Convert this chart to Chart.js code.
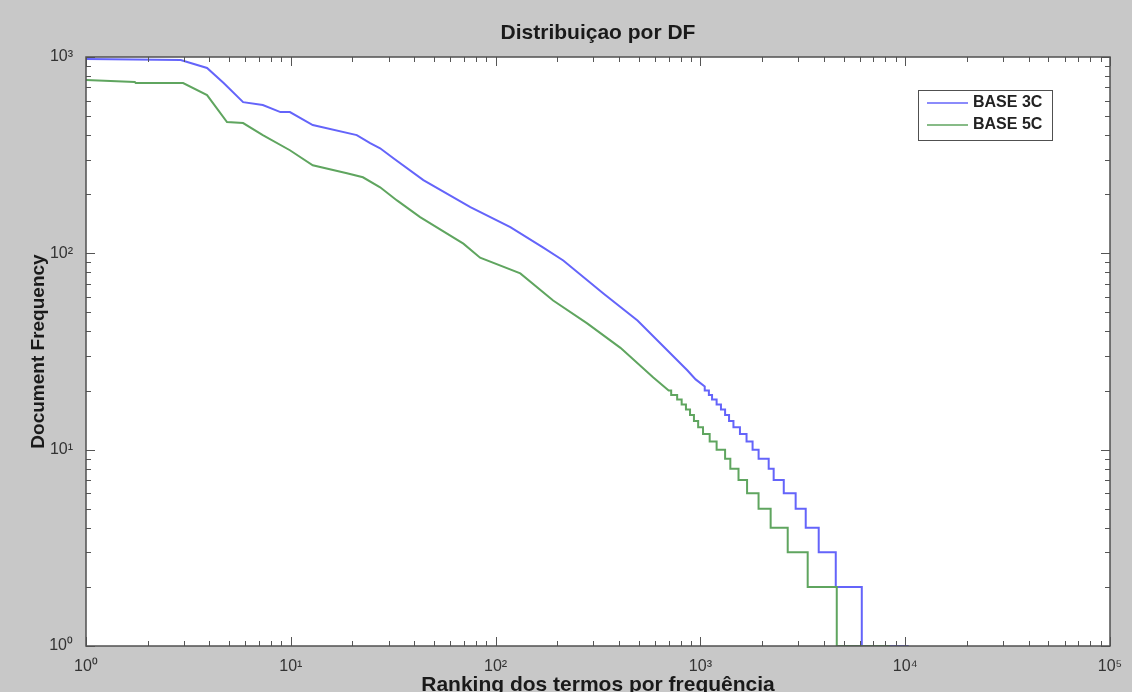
<!DOCTYPE html>
<html>
<head>
<meta charset="utf-8">
<script src="https://cdn.jsdelivr.net/npm/chart.js@4.4.1/dist/chart.umd.min.js"></script>
<style>
  html, body { margin: 0; padding: 0; background: #c8c8c8; overflow: hidden; }
  canvas { display: block; }
</style>
</head>
<body>
<canvas id="df-chart" width="1132" height="692"></canvas>
<script>
// Ranking (x) e Document Frequency (y)
const rank3C = [1, 2.9, 3.9, 4.7, 5.85, 7.3, 8.9, 9.9, 12.8, 21, 24.4, 27.3, 31.7, 44.4, 75.3, 118, 171, 214, 336, 493,
    865, 948, 1050, 1050, 1100, 1100, 1140, 1140, 1200, 1200, 1260, 1260, 1320, 1320, 1380, 1380, 1450, 1450, 1560, 1560,
    1680, 1680, 1798, 1798, 1924, 1924, 2155, 2155, 2279, 2279, 2553, 2553, 2918, 2918, 3268, 3268, 3782, 3782, 4581, 4581,
    6138, 6138, 10400];
const df3C = [977, 965, 879, 737, 589, 569, 524, 524, 450, 400, 364, 343, 305, 236, 172, 136, 107, 92, 62.5, 45.5,
    25.3, 22.8, 21, 20, 20, 19, 19, 18, 18, 17, 17, 16, 16, 15, 15, 14, 14, 13, 13, 12,
    12, 11, 11, 10, 10, 9, 9, 8, 8, 7, 7, 6, 6, 5, 5, 4, 4, 3, 3, 2,
    2, 1, 1];

const rank5C = [1, 1.73, 1.75, 2.98, 3.9, 4.88, 5.85, 7.3, 9.9, 12.8, 18.8, 22.5, 27.3, 33, 42.8, 69.6, 84, 132, 191, 280,
    407, 589, 700, 720, 720, 770, 770, 810, 810, 850, 850, 890, 890, 930, 930, 975, 975, 1030, 1030, 1110,
    1110, 1200, 1200, 1320, 1320, 1400, 1400, 1535, 1535, 1690, 1690, 1923, 1923, 2203, 2203, 2669, 2669, 3341, 3341, 4633,
    4633, 8400];
const df5C = [763, 746, 737, 737, 640, 466, 461, 400, 335, 281, 256, 244, 217, 186, 153, 112, 95, 79, 57.5, 44,
    33, 23.3, 20, 20, 19, 19, 18, 18, 17, 17, 16, 16, 15, 15, 14, 14, 13, 13, 12, 12,
    11, 11, 10, 10, 9, 9, 8, 8, 7, 7, 6, 6, 5, 5, 4, 4, 3, 3, 2, 2,
    1, 1];

const seriesLabels = ['BASE 3C', 'BASE 5C'];
const seriesColors = ['rgb(100, 100, 250)', 'rgb(95, 165, 95)'];
const xRange = [1, 100000];
const yRange = [1, 1000];

const SUP = ['⁰', '¹', '²', '³', '⁴', '⁵', '⁶', '⁷', '⁸', '⁹'];

function toPoints(xs, ys) {
    return xs.map((x, i) => ({x: x, y: ys[i]}));
}

// só as potências de 10 recebem rótulo
function powerLabel(value) {
    const p = Math.log10(value);
    if (Math.abs(p - Math.round(p)) > 1e-9) return '';
    return '10' + SUP[Math.round(p)];
}

// fundo cinza + área branca, estilo MATLAB
const backgroundPlugin = {
    id: 'matlabBackground',
    beforeDraw(chart) {
        const {ctx, chartArea: a} = chart;
        ctx.save();
        ctx.fillStyle = '#c8c8c8';
        ctx.fillRect(0, 0, chart.width, chart.height);
        ctx.fillStyle = '#ffffff';
        ctx.fillRect(a.left, a.top, a.right - a.left, a.bottom - a.top);
        ctx.restore();
    }
};

// caixa dos eixos com marcas para dentro nos quatro lados
const boxTicksPlugin = {
    id: 'boxTicks',
    afterDatasetsDraw(chart) {
        const {ctx, chartArea: a, scales} = chart;
        ctx.save();
        ctx.strokeStyle = '#555555';
        ctx.lineWidth = 1;
        const majorLen = 9, minorLen = 5;

        const decades = (min, max) => {
            const out = [];
            for (let d = min; d < max; d *= 10) {
                for (let m = 1; m <= 9; m++) out.push({v: d * m, major: m === 1});
            }
            out.push({v: max, major: true});
            return out;
        };

        ctx.beginPath();
        decades(xRange[0], xRange[1]).forEach(t => {
            const px = Math.round(scales.x.getPixelForValue(t.v)) + 0.5;
            const len = t.major ? majorLen : minorLen;
            ctx.moveTo(px, a.bottom); ctx.lineTo(px, a.bottom - len);
            ctx.moveTo(px, a.top); ctx.lineTo(px, a.top + len);
        });
        decades(yRange[0], yRange[1]).forEach(t => {
            const py = Math.round(scales.y.getPixelForValue(t.v)) + 0.5;
            const len = t.major ? majorLen : minorLen;
            ctx.moveTo(a.left, py); ctx.lineTo(a.left + len, py);
            ctx.moveTo(a.right, py); ctx.lineTo(a.right - len, py);
        });
        ctx.stroke();

        ctx.lineWidth = 1.5;
        ctx.strokeStyle = '#505050';
        ctx.strokeRect(a.left, a.top, a.right - a.left, a.bottom - a.top);
        ctx.restore();
    }
};

// legenda dentro da área do gráfico (canto superior direito)
const innerLegendPlugin = {
    id: 'innerLegend',
    afterDraw(chart) {
        const {ctx, chartArea: a} = chart;
        const boxW = 134, boxH = 50;
        const x0 = a.right - 58 - boxW, y0 = a.top + 33;
        ctx.save();
        ctx.fillStyle = '#ffffff';
        ctx.fillRect(x0, y0, boxW, boxH);
        ctx.strokeStyle = '#505050';
        ctx.lineWidth = 1;
        ctx.strokeRect(x0 + 0.5, y0 + 0.5, boxW, boxH);
        ctx.font = 'bold 16px "Liberation Sans", Arial, sans-serif';
        ctx.textBaseline = 'middle';
        chart.data.datasets.forEach((ds, i) => {
            const y = y0 + 13 + i * 22;
            ctx.strokeStyle = ds.borderColor;
            ctx.lineWidth = 1.5;
            ctx.beginPath();
            ctx.moveTo(x0 + 9, y);
            ctx.lineTo(x0 + 50, y);
            ctx.stroke();
            ctx.fillStyle = '#222222';
            ctx.fillText(ds.label, x0 + 55, y);
        });
        ctx.restore();
    }
};

const fontFamily = '"Liberation Sans", Arial, sans-serif';

const config = {
    type: 'line',
    data: {
        datasets: [
            {
                label: seriesLabels[0],
                data: toPoints(rank3C, df3C),
                borderColor: seriesColors[0],
                borderWidth: 2,
                pointRadius: 0,
                tension: 0,
                order: 1
            },
            {
                label: seriesLabels[1],
                data: toPoints(rank5C, df5C),
                borderColor: seriesColors[1],
                borderWidth: 2,
                pointRadius: 0,
                tension: 0,
                order: 0
            }
        ]
    },
    options: {
        responsive: false,
        animation: false,
        layout: {padding: {left: 0, top: 0, right: 22, bottom: 0}},
        plugins: {
            legend: {display: false},
            tooltip: {enabled: false},
            title: {
                display: true,
                fullSize: false,
                text: 'Distribuiçao por DF',
                color: '#1a1a1a',
                font: {family: fontFamily, size: 21, weight: 'bold'},
                padding: {top: 20.4, bottom: 11.4}
            }
        },
        scales: {
            x: {
                type: 'logarithmic',
                min: xRange[0],
                max: xRange[1],
                grid: {display: false},
                border: {display: false},
                ticks: {
                    autoSkip: false,
                    maxRotation: 0,
                    minRotation: 0,
                    padding: 3,
                    color: '#333333',
                    font: {family: fontFamily, size: 16},
                    callback: (value) => powerLabel(value)
                },
                title: {
                    display: true,
                    text: 'Ranking dos termos por frequência',
                    color: '#1a1a1a',
                    font: {family: fontFamily, size: 21, weight: 'bold', lineHeight: 0.65},
                    padding: {top: 0, bottom: 0}
                },
                afterFit: (scale) => { scale.height = 46; }
            },
            y: {
                type: 'logarithmic',
                min: yRange[0],
                max: yRange[1],
                grid: {display: false},
                border: {display: false},
                ticks: {
                    autoSkip: false,
                    padding: 5,
                    color: '#333333',
                    font: {family: fontFamily, size: 16},
                    callback: (value) => powerLabel(value)
                },
                title: {
                    display: true,
                    text: 'Document Frequency',
                    color: '#1a1a1a',
                    font: {family: fontFamily, size: 19, weight: 'bold'},
                    padding: {top: 27, bottom: 0}
                },
                afterFit: (scale) => { scale.width = 86; }
            }
        }
    },
    plugins: [backgroundPlugin, boxTicksPlugin, innerLegendPlugin]
};

const ctx = document.getElementById('df-chart').getContext('2d');
new Chart(ctx, config);
</script>
</body>
</html>
